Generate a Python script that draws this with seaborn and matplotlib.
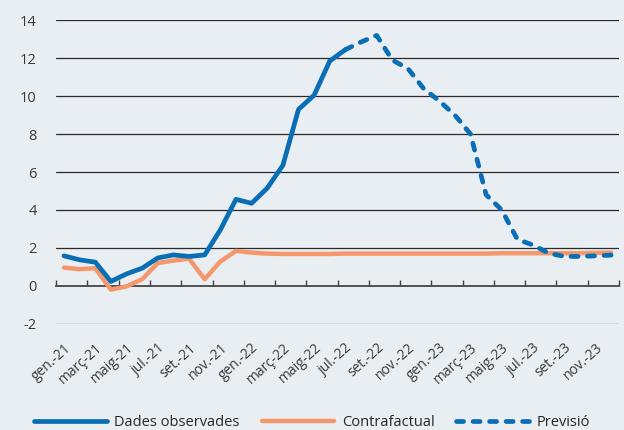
import pandas as pd
import numpy as np
import matplotlib.pyplot as plt
import seaborn as sns

# Monthly labels, gen-21 .. des-23
months = ['gen.-21', 'febr.-21', 'març-21', 'abr.-21', 'maig-21', 'juny-21',
          'jul.-21', 'ag.-21', 'set.-21', 'oct.-21', 'nov.-21', 'des.-21',
          'gen.-22', 'febr.-22', 'març-22', 'abr.-22', 'maig-22', 'juny-22',
          'jul.-22', 'ag.-22', 'set.-22', 'oct.-22', 'nov.-22', 'des.-22',
          'gen.-23', 'febr.-23', 'març-23', 'abr.-23', 'maig-23', 'juny-23',
          'jul.-23', 'ag.-23', 'set.-23', 'oct.-23', 'nov.-23', 'des.-23']

# Observed data (gen-21 .. jul-22)
observed = [1.58, 1.37, 1.25, 0.23, 0.63, 0.93, 1.47, 1.63, 1.55, 1.63,
            2.95, 4.56, 4.35, 5.15, 6.35, 9.3, 10.05, 11.85, 12.45]

# Forecast (jul-22 .. des-23)
forecast = [12.45, 12.85, 13.2, 11.9, 11.45, 10.4, 9.75, 9.0, 8.0, 4.8,
            4.0, 2.45, 2.15, 1.72, 1.55, 1.55, 1.58, 1.62]

# Counterfactual (gen-21 .. des-23)
counterfactual = [0.96, 0.88, 0.93, -0.2, -0.03, 0.35, 1.2, 1.33, 1.43, 0.35,
                  1.28, 1.84, 1.75, 1.7, 1.68, 1.68, 1.68, 1.68, 1.7, 1.7,
                  1.7, 1.7, 1.7, 1.7, 1.7, 1.7, 1.7, 1.7, 1.72, 1.72,
                  1.72, 1.72, 1.72, 1.72, 1.74, 1.75]

df_obs = pd.DataFrame({'m': np.arange(len(observed)), 'v': observed})
df_fc = pd.DataFrame({'m': np.arange(len(forecast)) + len(observed) - 1, 'v': forecast})
df_cf = pd.DataFrame({'m': np.arange(len(counterfactual)), 'v': counterfactual})

blue = '#0A6EB4'
orange = '#F4986C'
bg = '#E9EEF3'

sns.set_theme(style='white')
plt.rcParams['font.family'] = ['Open Sans', 'DejaVu Sans']
plt.rcParams['axes.unicode_minus'] = False

fig, ax = plt.subplots(figsize=(6.24, 4.30), dpi=100)
fig.patch.set_facecolor(bg)
ax.set_facecolor(bg)

sns.lineplot(data=df_cf, x='m', y='v', ax=ax, color=orange, lw=3.2,
             label='Contrafactual', solid_capstyle='round', zorder=3)
sns.lineplot(data=df_obs, x='m', y='v', ax=ax, color=blue, lw=3.4,
             label='Dades observades', solid_capstyle='round', zorder=4)
sns.lineplot(data=df_fc, x='m', y='v', ax=ax, color=blue, lw=3.4,
             linestyle=(0, (1.5, 2.0)), dash_capstyle='round',
             label='Previsió', zorder=4)

ax.set_xlim(-0.5, len(months) - 0.5)
ax.set_ylim(-2, 14)
ax.set_yticks(range(-2, 15, 2))
for y in range(-2, 15, 2):
    if y != 0:
        ax.axhline(y, color='#555555' if y == -2 else '#2b2b2b', lw=0.9, zorder=1)

ax.set_xticks(range(0, len(months), 2))
ax.set_xticklabels(months[::2], rotation=42, ha='right', rotation_mode='anchor',
                   fontsize=10, color='#3a3a3a')
ax.tick_params(axis='x', length=0, pad=12)
ax.tick_params(axis='y', length=0, labelsize=10.5, labelcolor='#3a3a3a', pad=14)
ax.set_xlabel('')
ax.set_ylabel('')
for s in ax.spines.values():
    s.set_visible(False)

# axis line with ticks at zero
sec = ax.secondary_xaxis(0, transform=ax.transData)
sec.set_xticks(np.arange(-0.5, len(months), 2))
sec.set_xticklabels([])
sec.tick_params(direction='in', length=4, width=1, color='#444444')
sec.spines['bottom'].set_color('#444444')
sec.spines['bottom'].set_linewidth(1.3)
for k in ['top', 'left', 'right']:
    sec.spines[k].set_visible(False)

h, l = ax.get_legend_handles_labels()
order = [l.index('Dades observades'), l.index('Contrafactual'), l.index('Previsió')]
ax.legend([h[i] for i in order], [l[i] for i in order], loc='lower center',
          bbox_to_anchor=(0.5, -0.03), bbox_transform=fig.transFigure,
          ncol=3, frameon=False, handlelength=5.0, columnspacing=1.5,
          handletextpad=0.5, fontsize=10.5)

fig.subplots_adjust(left=0.09, right=0.992, top=0.953, bottom=0.247)
fig.savefig('out.png', dpi=100, facecolor=bg)
